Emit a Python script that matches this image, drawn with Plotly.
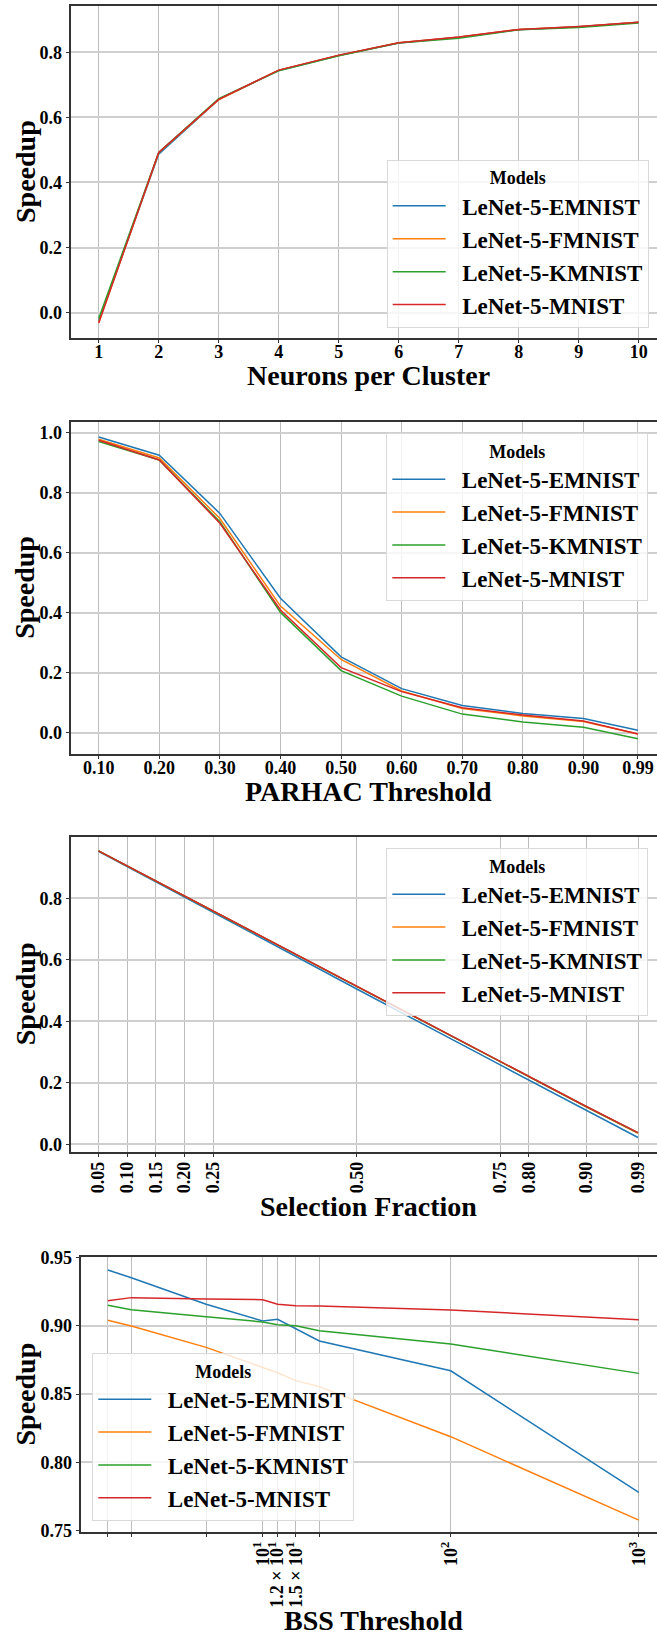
import plotly.graph_objects as go

# ---------------------------------------------------------------- data
models = ["LeNet-5-EMNIST", "LeNet-5-FMNIST", "LeNet-5-KMNIST", "LeNet-5-MNIST"]
colors = ["#1f77b4", "#ff7f0e", "#2ca02c", "#d62728"]

# Panel 1: neurons per cluster
neurons = [1, 2, 3, 4, 5, 6, 7, 8, 9, 10]
neurons_emnist = [-0.025, 0.487, 0.655, 0.744, 0.790, 0.828, 0.846, 0.869, 0.878, 0.892]
neurons_fmnist = [-0.030, 0.491, 0.654, 0.745, 0.790, 0.829, 0.846, 0.870, 0.878, 0.892]
neurons_kmnist = [-0.018, 0.492, 0.657, 0.743, 0.789, 0.828, 0.843, 0.869, 0.876, 0.890]
neurons_mnist = [-0.032, 0.492, 0.655, 0.745, 0.791, 0.829, 0.847, 0.870, 0.879, 0.892]

# Panel 2: PARHAC threshold
parhac = [0.10, 0.20, 0.30, 0.40, 0.50, 0.60, 0.70, 0.80, 0.90, 0.99]
parhac_labels = ["0.10", "0.20", "0.30", "0.40", "0.50", "0.60", "0.70", "0.80", "0.90", "0.99"]
parhac_emnist = [0.986, 0.925, 0.731, 0.448, 0.253, 0.147, 0.091, 0.064, 0.047, 0.008]
parhac_fmnist = [0.978, 0.916, 0.714, 0.422, 0.244, 0.139, 0.081, 0.056, 0.037, -0.004]
parhac_kmnist = [0.971, 0.909, 0.703, 0.401, 0.207, 0.122, 0.062, 0.036, 0.018, -0.020]
parhac_mnist = [0.975, 0.909, 0.698, 0.409, 0.217, 0.137, 0.083, 0.059, 0.039, -0.004]

# Panel 3: selection fraction
fraction = [0.05, 0.10, 0.15, 0.20, 0.25, 0.50, 0.75, 0.80, 0.90, 0.99]
fraction_labels = ["0.05", "0.10", "0.15", "0.20", "0.25", "0.50", "0.75", "0.80", "0.90", "0.99"]
fraction_emnist = [0.953, 0.903, 0.853, 0.803, 0.753, 0.505, 0.258, 0.209, 0.110, 0.022]
fraction_fmnist = [0.954, 0.905, 0.856, 0.806, 0.757, 0.513, 0.268, 0.220, 0.122, 0.036]
fraction_kmnist = [0.954, 0.905, 0.856, 0.806, 0.757, 0.513, 0.268, 0.220, 0.122, 0.037]
fraction_mnist = [0.954, 0.905, 0.856, 0.806, 0.757, 0.514, 0.269, 0.221, 0.123, 0.038]

# Panel 4: BSS threshold (log axis)
bss = [1.5, 2, 5, 10, 12, 15, 20, 100, 1000]
bss_labeled = [10, 12, 15, 100, 1000]
bss_labels = ["10<sup>1</sup>", "1.2 × 10<sup>1</sup>", "1.5 × 10<sup>1</sup>",
              "10<sup>2</sup>", "10<sup>3</sup>"]
bss_unlabeled = [1.5, 2, 5, 20]
bss_emnist = [0.9407, 0.9351, 0.9156, 0.9034, 0.9046, 0.8976, 0.8888, 0.8670, 0.7780]
bss_fmnist = [0.9039, 0.8998, 0.8841, 0.8693, 0.8656, 0.8598, 0.8554, 0.8188, 0.7578]
bss_kmnist = [0.9149, 0.9117, 0.9066, 0.9027, 0.9007, 0.9000, 0.8963, 0.8866, 0.8651]
bss_mnist = [0.9183, 0.9205, 0.9195, 0.9190, 0.9156, 0.9146, 0.9144, 0.9115, 0.9044]

# ---------------------------------------------------------------- styling
W, H = 657, 1635
FONT = "Liberation Serif"
TICK_SIZE = 18
TITLE_SIZE = 28
LEGEND_SIZE = 23
AXIS_RIGHT = 665  # the axes run a little past the right edge of the page


def px_x(v):
    return v / W


def px_y(v):
    return 1 - v / H


panels = [
    dict(x=neurons, series=[neurons_emnist, neurons_fmnist, neurons_kmnist, neurons_mnist],
         top=6.3, bottom=337.7, left=71.3, title="Neurons per Cluster", title_y=376,
         legend_box=(386.7, 160)),
    dict(x=parhac, series=[parhac_emnist, parhac_fmnist, parhac_kmnist, parhac_mnist],
         top=422.0, bottom=753.7, left=71.3, title="PARHAC Threshold", title_y=791,
         legend_box=(386.3, 433.3)),
    dict(x=fraction, series=[fraction_emnist, fraction_fmnist, fraction_kmnist, fraction_mnist],
         top=836.7, bottom=1151.7, left=71.3, title="Selection Fraction", title_y=1206,
         legend_box=(386.3, 848.3)),
    dict(x=bss, series=[bss_emnist, bss_fmnist, bss_kmnist, bss_mnist],
         top=1257.3, bottom=1531.7, left=81.3, title="BSS Threshold", title_y=1620,
         legend_box=(92.3, 1353.3)),
]

fig = go.Figure()

for p_i, p in enumerate(panels, start=1):
    sfx = "" if p_i == 1 else str(p_i)
    leg = "legend" if p_i == 1 else "legend%d" % p_i
    for m_i, (name, ys) in enumerate(zip(models, p["series"])):
        fig.add_trace(go.Scatter(
            x=p["x"], y=ys, mode="lines",
            name="\u00a0\u00a0" + name,
            line=dict(color=colors[m_i], width=1.5),
            xaxis="x" + sfx, yaxis="y" + sfx,
            legend=leg, showlegend=True,
        ))

tick_font = dict(family=FONT, size=TICK_SIZE, color="black", weight="bold")
common_x = dict(
    showline=True, mirror=True, linecolor="#333333", linewidth=1.5,
    ticks="outside", ticklen=4, tickwidth=1, tickcolor="#333333",
    showgrid=True, gridcolor="#bdbdbd", gridwidth=1, zeroline=False,
    tickfont=tick_font, automargin=False, ticklabelstandoff=-3,
)
common_y = dict(
    showline=True, mirror=False, linecolor="#333333", linewidth=1.5,
    ticks="outside", ticklen=4, tickwidth=1, tickcolor="#333333",
    showgrid=True, gridcolor="#cfcfcf", gridwidth=1.5, zeroline=False,
    tickfont=tick_font, automargin=False,
)

axes = {}
# panel 1
axes["xaxis"] = dict(common_x, domain=[px_x(71.3), 1], anchor="y",
                     range=[0.543, 10.305], tickvals=neurons, ticktext=[str(v) for v in neurons],
                     ticklabelstandoff=-7)
axes["yaxis"] = dict(common_y, domain=[px_y(337.7), px_y(6.3)], anchor="x",
                     range=[-0.077, 0.941], tickvals=[0, 0.2, 0.4, 0.6, 0.8], tickformat=".1f")
# panel 2
axes["xaxis2"] = dict(common_x, domain=[px_x(71.3), 1], anchor="y2",
                      range=[0.0548, 1.0214], tickvals=parhac, ticktext=parhac_labels,
                      ticklabelstandoff=-7)
axes["yaxis2"] = dict(common_y, domain=[px_y(753.7), px_y(422.0)], anchor="x2",
                      range=[-0.07, 1.0357], tickvals=[0, 0.2, 0.4, 0.6, 0.8, 1.0], tickformat=".1f")
# panel 3
axes["xaxis3"] = dict(common_x, domain=[px_x(71.3), 1], anchor="y3",
                      range=[0.0026, 1.0231], tickvals=fraction, ticktext=fraction_labels,
                      tickangle=-90)
axes["yaxis3"] = dict(common_y, domain=[px_y(1151.7), px_y(836.7)], anchor="x3",
                      range=[-0.0241, 1.0003], tickvals=[0, 0.2, 0.4, 0.6, 0.8], tickformat=".1f")
# panel 4: labelled ticks are major, the remaining data positions carry a grid line only
axes["xaxis4"] = dict(common_x, domain=[px_x(81.3), 1], anchor="y4", type="log",
                      range=[0.035, 3.097], tickvals=bss_labeled, ticktext=bss_labels,
                      tickangle=-90,
                      minor=dict(tickvals=bss_unlabeled, ticks="outside", ticklen=4,
                                 tickwidth=1, tickcolor="#333333", showgrid=True,
                                 gridcolor="#bdbdbd", gridwidth=1))
axes["yaxis4"] = dict(common_y, domain=[px_y(1531.7), px_y(1257.3)], anchor="x4",
                      range=[0.7493, 0.9500], tickvals=[0.75, 0.80, 0.85, 0.90, 0.95],
                      tickformat=".2f")

# legends, one per panel
legends = {}
for p_i, p in enumerate(panels, start=1):
    key = "legend" if p_i == 1 else "legend%d" % p_i
    lx, ly = p["legend_box"]
    legends[key] = dict(
        x=px_x(lx), y=px_y(ly), xanchor="left", yanchor="top",
        xref="paper", yref="paper",
        bgcolor="rgba(255,255,255,0.8)", bordercolor="#d9d9d9", borderwidth=1,
        font=dict(family=FONT, size=LEGEND_SIZE, color="black", weight="bold"),
        title=dict(text="Models", side="top center",
                   font=dict(family=FONT, size=18, color="black", weight="bold")),
        itemwidth=53, tracegroupgap=0,
    )

annotations = []
for p in panels:
    cx = (p["left"] + AXIS_RIGHT) / 2
    annotations.append(dict(
        text=p["title"], x=px_x(cx), y=px_y(p["title_y"]), xref="paper", yref="paper",
        xanchor="center", yanchor="middle", showarrow=False,
        font=dict(family=FONT, size=TITLE_SIZE, color="black", weight="bold"),
    ))
    annotations.append(dict(
        text="Speedup", x=px_x(25), y=px_y((p["top"] + p["bottom"]) / 2),
        xref="paper", yref="paper", xanchor="center", yanchor="middle",
        textangle=-90, showarrow=False,
        font=dict(family=FONT, size=TITLE_SIZE, color="black", weight="bold"),
    ))

fig.update_layout(
    width=W, height=H,
    margin=dict(l=0, r=0, t=0, b=0, autoexpand=False),
    paper_bgcolor="white", plot_bgcolor="white",
    annotations=annotations,
    **axes, **legends,
)

fig.write_html("out.html")
